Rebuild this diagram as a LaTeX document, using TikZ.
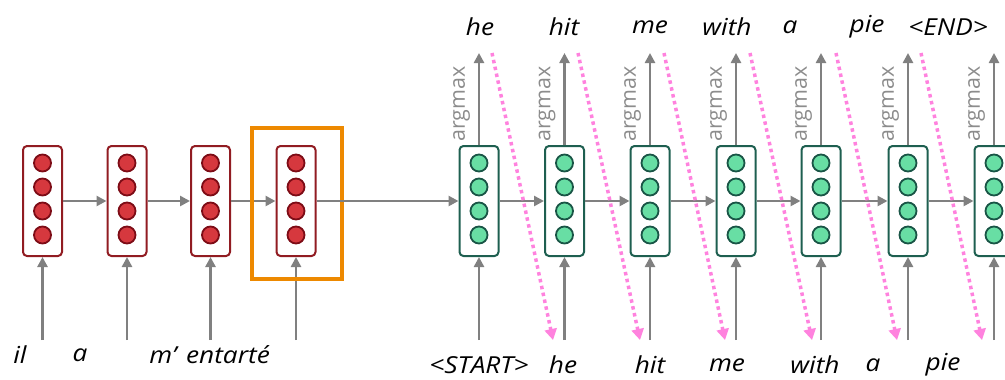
\documentclass[tikz,border=0pt]{standalone}
\usepackage{fontspec}
\setmainfont{Open Sans}
\newfontfamily\wordfont{Open Sans}[FakeStretch=1.12]
\usetikzlibrary{arrows.meta}
\definecolor{encborder}{RGB}{145,28,34}
\definecolor{encfill}{RGB}{214,56,62}
\definecolor{enccirc}{RGB}{125,12,22}
\definecolor{decborder}{RGB}{30,95,80}
\definecolor{decfill}{RGB}{104,222,164}
\definecolor{deccirc}{RGB}{25,85,70}
\definecolor{arrowgray}{RGB}{128,128,128}
\definecolor{argray}{RGB}{140,140,140}
\definecolor{pinkdot}{RGB}{255,130,222}
\definecolor{orangebox}{RGB}{237,137,0}
\begin{document}
\begin{tikzpicture}[x=1bp,y=-1bp,
  cell/.style={draw, rounded corners=4bp, line width=2bp, minimum width=39bp, minimum height=110bp, fill=white, inner sep=0},
  enccell/.style={cell, draw=encborder},
  deccell/.style={cell, draw=decborder},
  unit/.style={circle, minimum size=17bp, inner sep=0, line width=1.8bp},
  encunit/.style={unit, draw=enccirc, fill=encfill},
  decunit/.style={unit, draw=deccirc, fill=decfill},
  flow/.style={draw=arrowgray, line width=2.6bp, -{Triangle[width=10bp,length=10bp]}},
  word/.style={font=\wordfont\fontsize{23.5}{28}\selectfont\itshape, inner sep=0},
  amax/.style={font=\fontsize{21.5}{26}\selectfont, text=argray, rotate=90, inner sep=0},
  feed/.style={draw=pinkdot, line width=3.5bp, dash pattern=on 3.5bp off 3.5bp, -{Triangle[width=12bp,length=11bp,fill=pinkdot]}},
  focusbox/.style={draw=orangebox, line width=3.5bp, minimum width=90bp, minimum height=151bp, inner sep=0}
]
\clip (0,0) rectangle (1005,379);
% encoder
\foreach \i/\x in {1/42.5,2/127,3/210.5,4/296}{
  \node[enccell] (e\i) at (\x,201) {};
  \foreach \k/\y in {1/163,2/187,3/211,4/235}{
    \node[encunit] (e\i c\k) at (\x,\y) {};
  }
  \coordinate (ein\i) at (\x,340);
  \draw[flow] (ein\i) -- (e\i.south);
}
\foreach \a/\b in {1/2,2/3,3/4}{
  \draw[flow] (e\a.east) -- (e\b.west);
}
\node[focusbox] (focus) at (297,203.5) {};
% encoder words
\node[word] (w1) at (20,355) {il};
\node[word] (w2) at (80,355) {a};
\node[word] (w3) at (163,355) {m’};
\node[word] (w4) at (228,355) {entarté};
% decoder
\foreach \i/\x in {1/479,2/564.5,3/650,4/736,5/821,6/908,7/994}{
  \node[deccell] (d\i) at (\x,201) {};
  \foreach \k/\y in {1/163,2/187,3/211,4/235}{
    \node[decunit] (d\i c\k) at (\x,\y) {};
  }
  \coordinate (din\i) at (\x,340);
  \coordinate (dout\i) at (\x,53);
  \draw[flow] (din\i) -- (d\i.south);
  \draw[flow] (d\i.north) -- (dout\i);
  \node[amax] (am\i) at (\x-17.5,104) {argmax};
}
\draw[flow] (e4.east) -- (d1.west);
\foreach \a/\b in {1/2,2/3,3/4,4/5,5/6,6/7}{
  \draw[flow] (d\a.east) -- (d\b.west);
}
% feedback arrows
\foreach \a/\b/\xa/\xb in {1/2/492/553,2/3/578/640,3/4/664/725,4/5/750/812,5/6/836/897,6/7/921/982}{
  \coordinate (ft\a) at (\xa,53);
  \coordinate (fb\b) at (\xb,340);
  \draw[feed] (ft\a) -- (fb\b);
}
% output words
\node[word] (o1) at (480,27) {he};
\node[word] (o2) at (564,27) {hit};
\node[word] (o3) at (650,27) {me};
\node[word] (o4) at (727,27) {with};
\node[word] (o5) at (790,27) {a};
\node[word] (o6) at (867,27) {pie};
\node[word] (o7) at (948,27) {<END>};
% decoder input words
\node[word] (i1) at (479,365) {<START>};
\node[word] (i2) at (563,365) {he};
\node[word] (i3) at (650,365) {hit};
\node[word] (i4) at (727,365) {me};
\node[word] (i5) at (815,365) {with};
\node[word] (i6) at (873,365) {a};
\node[word] (i7) at (943,365) {pie};
\end{tikzpicture}
\end{document}
